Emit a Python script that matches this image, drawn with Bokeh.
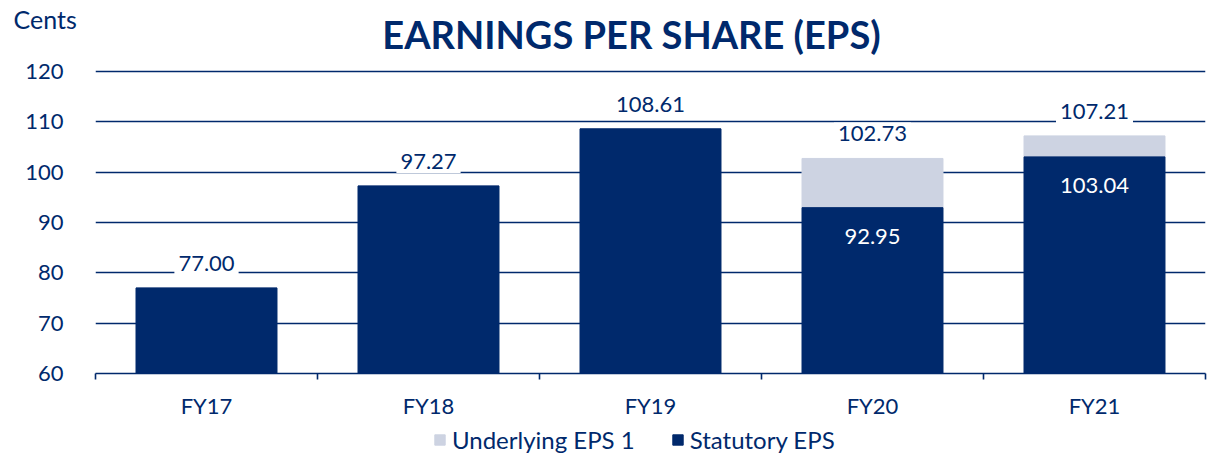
from bokeh.plotting import figure
from bokeh.layouts import column
from bokeh.models import (ColumnDataSource, Range1d, FixedTicker, Label, Legend, LegendItem)
from bokeh.core.properties import value
from bokeh.embed import file_html
from bokeh.resources import INLINE

categories = ["FY17", "FY18", "FY19", "FY20", "FY21"]
statutory = [77.00, 97.27, 108.61, 92.95, 103.04]
underlying = [77.00, 97.27, 108.61, 102.73, 107.21]
y_ticks = [60, 70, 80, 90, 100, 110, 120]
title_text = "EARNINGS PER SHARE (EPS)"
unit_text = "Cents"
legend_labels = ["Underlying EPS 1", "Statutory EPS"]

NAVY = "#00296c"
LIGHT = "#cdd3e2"
FONT = "Lato"
W = 1209
HEAD_H = 57
LEG_H = 36

xs = [i + 0.5 for i in range(len(categories))]
top_labels = ["%.2f" % v for v in underlying]
inner_idx = [i for i in range(len(categories)) if underlying[i] > statutory[i]]

src = ColumnDataSource(dict(x=xs, stat=statutory, und=underlying, top_lab=top_labels,
                            base=[y_ticks[0]] * len(xs)))
inner = ColumnDataSource(dict(x=[xs[i] for i in inner_idx],
                              stat=[statutory[i] for i in inner_idx],
                              lab=["%.2f" % statutory[i] for i in inner_idx]))


def bare(fig):
    fig.outline_line_color = None
    fig.xgrid.visible = False
    fig.ygrid.visible = False
    fig.frame_align = False
    return fig


# ---- header: unit label + title ----
head = bare(figure(width=W, height=HEAD_H, output_backend="svg", toolbar_location=None,
                   x_range=Range1d(0, W), y_range=Range1d(0, HEAD_H),
                   x_axis_location=None, y_axis_location=None,
                   min_border=0, min_border_left=0, min_border_right=0,
                   min_border_top=0, min_border_bottom=0))
head.add_layout(Label(x=13, y=HEAD_H - 18, text=unit_text, text_align="left",
                      text_baseline="middle", text_font=FONT, text_font_size="25px",
                      text_color=NAVY))
head.add_layout(Label(x=631, y=HEAD_H - 33, text=title_text, text_align="center",
                      text_baseline="middle", text_font=FONT, text_font_style="bold",
                      text_font_size="38px", text_color=NAVY))

# ---- main chart ----
MAIN_H = 459 - HEAD_H - LEG_H
p = figure(width=W, height=MAIN_H, output_backend="svg", toolbar_location=None,
           x_range=Range1d(0, len(categories)), y_range=Range1d(y_ticks[0], 121.0),
           min_border_left=95, min_border_right=4, min_border_top=66 - HEAD_H,
           min_border_bottom=MAIN_H - (373 - HEAD_H))
p.outline_line_color = None
p.frame_align = False

und_r = p.vbar(x="x", width=0.635, bottom="stat", top="und", source=src, color=LIGHT)
stat_r = p.vbar(x="x", width=0.635, bottom="base", top="stat", source=src, color=NAVY)

p.text(x="x", y="und", text="top_lab", source=src, text_align="center", text_baseline="bottom",
       y_offset=-13, text_font=value(FONT), text_font_size="22px", text_color=NAVY,
       background_fill_color="white", padding=4)
p.text(x="x", y="stat", text="lab", source=inner, text_align="center", text_baseline="middle",
       y_offset=29, text_font=value(FONT), text_font_size="22px", text_color="white")

p.yaxis.ticker = FixedTicker(ticks=y_ticks)
p.yaxis.axis_line_color = None
p.yaxis.major_tick_line_color = None
p.yaxis.minor_tick_line_color = None
p.yaxis.major_label_standoff = 26
p.yaxis.major_label_text_font = FONT
p.yaxis.major_label_text_font_size = "22px"
p.yaxis.major_label_text_color = NAVY

p.ygrid.ticker = FixedTicker(ticks=y_ticks[1:])
p.ygrid.grid_line_color = NAVY
p.ygrid.grid_line_width = 1.6
p.xgrid.grid_line_color = None

p.xaxis.ticker = FixedTicker(ticks=xs, minor_ticks=list(range(len(categories) + 1)))
p.xaxis.major_label_overrides = {x: c for x, c in zip(xs, categories)}
p.xaxis.axis_line_color = NAVY
p.xaxis.axis_line_width = 1.6
p.xaxis.major_tick_line_color = None
p.xaxis.minor_tick_line_color = NAVY
p.xaxis.minor_tick_line_width = 1.6
p.xaxis.minor_tick_out = 6
p.xaxis.minor_tick_in = 0
p.xaxis.major_label_standoff = 12
p.xaxis.major_label_text_font = FONT
p.xaxis.major_label_text_font_size = "22px"
p.xaxis.major_label_text_color = NAVY

# ---- legend strip: swatches come from hidden copies of the two bar series ----
leg = bare(figure(width=W, height=LEG_H, output_backend="svg", toolbar_location=None,
                  x_range=Range1d(0, len(categories)), y_range=Range1d(1000, 1001),
                  x_axis_location=None, y_axis_location=None,
                  min_border=0, min_border_left=0, min_border_right=0,
                  min_border_top=0, min_border_bottom=0))
lu = leg.vbar(x="x", width=0.635, bottom="stat", top="und", source=src, color=LIGHT)
ls = leg.vbar(x="x", width=0.635, bottom="base", top="stat", source=src, color=NAVY)
lu.visible = False
ls.visible = False
legend = Legend(items=[LegendItem(label=legend_labels[0], renderers=[lu]),
                       LegendItem(label=legend_labels[1], renderers=[ls])],
                orientation="horizontal", location=(433, 5),
                label_text_font=FONT, label_text_font_size="24px", label_text_color=NAVY,
                glyph_width=13, glyph_height=13, spacing=36, label_standoff=6,
                border_line_color=None, background_fill_alpha=0, padding=0, margin=0)
leg.add_layout(legend)

layout = column(head, p, leg, spacing=0)
open("out.html", "w").write(file_html(layout, INLINE))
